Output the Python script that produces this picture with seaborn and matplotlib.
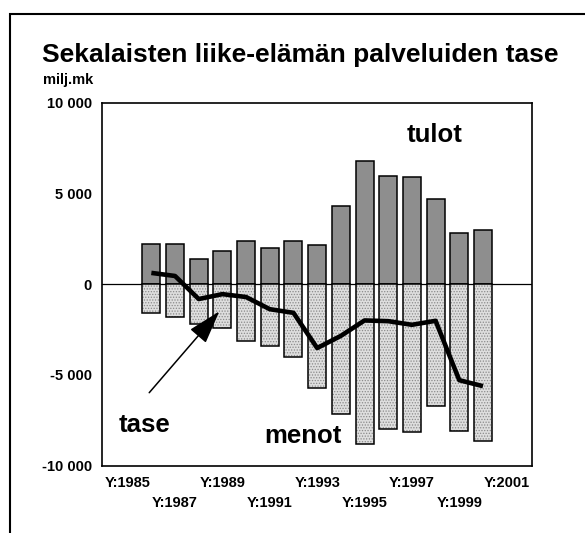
import matplotlib
matplotlib.use("Agg")
import matplotlib.pyplot as plt
from matplotlib.patches import Rectangle
from matplotlib.ticker import FixedLocator
import seaborn as sns

# Sekalaisten liike-elämän palveluiden tulot, menot ja tase, milj. mk
vuodet = [1986, 1987, 1988, 1989, 1990, 1991, 1992, 1993,
          1994, 1995, 1996, 1997, 1998, 1999, 2000]
tulot = [2200, 2200, 1400, 1800, 2400, 2000, 2400, 2150,
         4300, 6800, 5950, 5900, 4700, 2800, 3000]
menot = [-1580, -1800, -2200, -2400, -3125, -3380, -4040, -5700,
         -7130, -8820, -7990, -8170, -6725, -8100, -8640]
tase = [620, 450, -820, -550, -710, -1380, -1580, -3520,
        -2850, -2000, -2040, -2240, -2020, -5290, -5620]

y_tikit = [-10000, -5000, 0, 5000, 10000]
y_nimet = ["-10 000", "-5 000", "0", "5 000", "10 000"]
x_tikit = [1985, 1987, 1989, 1991, 1993, 1995, 1997, 1999, 2001]
x_nimet = ["Y:%d" % v for v in x_tikit]

sns.set_theme(style="white")
plt.rcParams["font.family"] = ["Liberation Sans", "DejaVu Sans"]
plt.rcParams["font.weight"] = "bold"
plt.rcParams["text.color"] = "black"
plt.rcParams["hatch.linewidth"] = 0.6

fig = plt.figure(figsize=(5.85, 5.33), dpi=100)
ax = fig.add_axes([0.1749, 0.1263, 0.9094 - 0.1749, 0.8075 - 0.1263])

# tulot: tummanharmaat pylväät
sns.barplot(x=vuodet, y=tulot, native_scale=True, color="#8e8e8e",
            saturation=1, edgecolor="black", linewidth=1.1, width=0.76,
            ax=ax, zorder=2)
# menot: pisterasteroidut pylväät ja niiden ääriviivat
sns.barplot(x=vuodet, y=menot, native_scale=True, color="#dedede",
            saturation=1, edgecolor="#8a8a8a", linewidth=0, width=0.76,
            hatch="......", ax=ax, zorder=2)
sns.barplot(x=vuodet, y=menot, native_scale=True, color="black",
            fill=False, linewidth=1.1, width=0.76, ax=ax, zorder=2.1)

ax.axhline(0, color="black", linewidth=0.9, zorder=1.5)

# tase
sns.lineplot(x=vuodet, y=tase, color="black", linewidth=3.3, ax=ax,
             zorder=3, solid_joinstyle="round", solid_capstyle="butt")

ax.set_xlim(1983.93, 2002.07)
ax.set_ylim(-10000, 10000)

ax.yaxis.set_major_locator(FixedLocator(y_tikit))
ax.set_yticklabels(y_nimet)
ax.yaxis.set_minor_locator(FixedLocator([-7500, -2500, 2500, 7500]))
ax.xaxis.set_major_locator(FixedLocator(x_tikit))
ax.set_xticklabels(x_nimet)
ax.xaxis.set_minor_locator(FixedLocator(list(range(1986, 2001, 2))))

ax.tick_params(axis="both", which="major", direction="in", length=6.8,
               width=0.9, color="black", labelsize=10.5, labelcolor="black")
ax.tick_params(axis="both", which="minor", direction="in", length=3.5,
               width=0.9, color="black")
ax.tick_params(axis="y", which="major", pad=7.6)
ax.tick_params(axis="x", which="major", pad=7.5)
for lab in ax.get_xticklabels() + ax.get_yticklabels():
    lab.set_fontweight("bold")
# joka toinen vuosinimi alemmalle riville
for i, tick in enumerate(ax.xaxis.get_major_ticks()):
    if i % 2 == 1:
        tick.set_pad(21.5)

ax.set_xlabel("")
ax.set_ylabel("")
for s in ax.spines.values():
    s.set_visible(True)
    s.set_color("black")
    s.set_linewidth(1.2)

# selitetekstit
ax.text(1996.78, 7846, "tulot", fontsize=18.5, fontweight="bold",
        color="black", ha="left", va="baseline")
ax.text(1990.75, -8733, "menot", fontsize=18.5, fontweight="bold",
        color="black", ha="left", va="baseline")
ax.text(1984.63, -8127, "tase", fontsize=18.5, fontweight="bold",
        color="black", ha="left", va="baseline")
ax.annotate("", xy=(1988.87, -1500), xytext=(1985.91, -5980),
            arrowprops=dict(arrowstyle="-|>,head_length=2.1,head_width=0.65",
                            mutation_scale=10, color="black", lw=1.1,
                            shrinkA=0, shrinkB=0),
            zorder=4)

# otsikko ja yksikkö
fig.text(42 / 585, 1 - 62 / 533, "Sekalaisten liike-elämän palveluiden tase",
         fontsize=19, fontweight="bold", color="black",
         ha="left", va="baseline")
fig.text(43 / 585, 1 - 83.7 / 533, "milj.mk", fontsize=10.5, fontweight="bold",
         color="black", ha="left", va="baseline")

# kehys
fig.add_artist(Rectangle((10 / 585, -0.1), 1.2, 1 - 14.3 / 533 + 0.1,
                         transform=fig.transFigure, fill=False,
                         edgecolor="black", linewidth=1.5, clip_on=False))

fig.savefig("out.png", dpi=100)
